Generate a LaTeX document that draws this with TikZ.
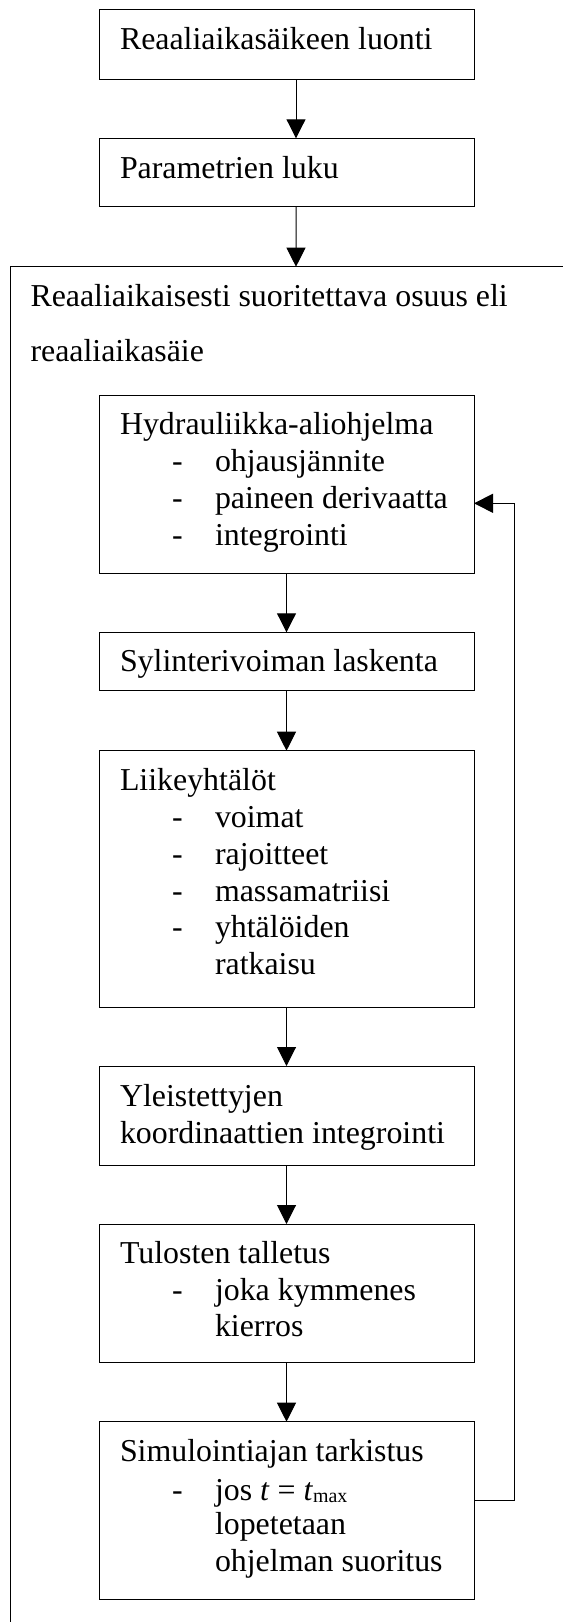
\documentclass[tikz,border=0pt]{standalone}
\usepackage{fontspec}
\setmainfont{Liberation Serif}
\usetikzlibrary{arrows.meta}
\begin{document}
\begin{tikzpicture}[x=1bp,y=-1bp,
  box/.style={draw, line width=1bp, rectangle, inner sep=0pt, outer sep=0pt, anchor=north west, minimum width=375bp},
  txt/.style={anchor=base west, inner sep=0pt, outer sep=0pt, font=\fontsize{32}{36.7}\selectfont},
  arr/.style={line width=1bp, -{Triangle[length=19bp,width=19bp]}},
  plain/.style={line width=1bp}
]
\useasboundingbox (0,0) rectangle (563,1622);
% boxes
\node[box, minimum height=69.3bp] (b1) at (99,10) {};
\node[box, minimum height=68.4bp] (b2) at (99,138.3) {};
\node[box, minimum height=177.6bp] (hy) at (99,395.7) {};
\node[box, minimum height=57.7bp] (sy) at (99,632.3) {};
\node[box, minimum height=256.6bp] (li) at (99,750.7) {};
\node[box, minimum height=99bp] (yl) at (99,1066) {};
\node[box, minimum height=138.3bp] (tu) at (99,1224) {};
\node[box, minimum height=177.3bp] (si) at (99,1421.7) {};
% outer frame (partly visible)
\coordinate (otr) at (563,266.7);
\coordinate (otl) at (10,266.7);
\coordinate (obl) at (10,1622);
\coordinate (oin) at (296,266.7);
\draw[plain] (otr) -- (otl) -- (obl);
% texts
\node[txt] (t1) at (120,50) {Reaaliaikasäikeen luonti};
\node[txt] (t2) at (120,178.3) {Parametrien luku};
\node[txt] (o1) at (30.5,306) {Reaaliaikaisesti suoritettava osuus eli};
\node[txt] (o2) at (30.5,361.7) {reaaliaikasäie};
\node[txt] (h0) at (120,434.3) {Hydrauliikka-aliohjelma};
\node[txt] (hd1) at (172,471) {-};
\node[txt] (h1) at (215,471) {ohjausjännite};
\node[txt] (hd2) at (172,508.3) {-};
\node[txt] (h2) at (215,508.3) {paineen derivaatta};
\node[txt] (hd3) at (172,545) {-};
\node[txt] (h3) at (215,545) {integrointi};
\node[txt] (s0) at (120,671.7) {Sylinterivoiman laskenta};
\node[txt] (l0) at (120,790.7) {Liikeyhtälöt};
\node[txt] (ld1) at (172,827.7) {-};
\node[txt] (l1) at (215,827.7) {voimat};
\node[txt] (ld2) at (172,864.3) {-};
\node[txt] (l2) at (215,864.3) {rajoitteet};
\node[txt] (ld3) at (172,901) {-};
\node[txt] (l3) at (215,901) {massamatriisi};
\node[txt] (ld4) at (172,937.7) {-};
\node[txt] (l4) at (215,937.7) {yhtälöiden};
\node[txt] (l5) at (215,974.3) {ratkaisu};
\node[txt] (y0) at (120,1106) {Yleistettyjen};
\node[txt] (y1) at (120,1143.3) {koordinaattien integrointi};
\node[txt] (u0) at (120,1263.3) {Tulosten talletus};
\node[txt] (ud1) at (172,1300) {-};
\node[txt] (u1) at (215,1300) {joka kymmenes};
\node[txt] (u2) at (215,1336.7) {kierros};
\node[txt] (m0) at (120,1461.7) {Simulointiajan tarkistus};
\node[txt] (md1) at (172,1500) {-};
\node[txt] (m1) at (215,1500) {jos \textit{t} = \textit{t}\raisebox{-2bp}{\fontsize{20}{20}\selectfont max}};
\node[txt] (m2) at (215,1534) {lopetetaan};
\node[txt] (m3) at (215,1571.7) {ohjelman suoritus};
% arrows
\draw[arr] ([xshift=9.5bp]b1.south) -- ([xshift=9.5bp]b2.north);
\draw[arr] ([xshift=9.5bp]b2.south) -- (oin);
\draw[arr] (hy.south) -- (sy.north);
\draw[arr] (sy.south) -- (li.north);
\draw[arr] (li.south) -- (yl.north);
\draw[arr] (yl.south) -- (tu.north);
\draw[arr] (tu.south) -- (si.north);
\coordinate (lp1) at (514,1500);
\coordinate (lp2) at (514,503.3);
\draw[arr] (si.east |- lp1) -- (lp1) -- (lp2) -- (hy.east |- lp2);
\end{tikzpicture}
\end{document}
